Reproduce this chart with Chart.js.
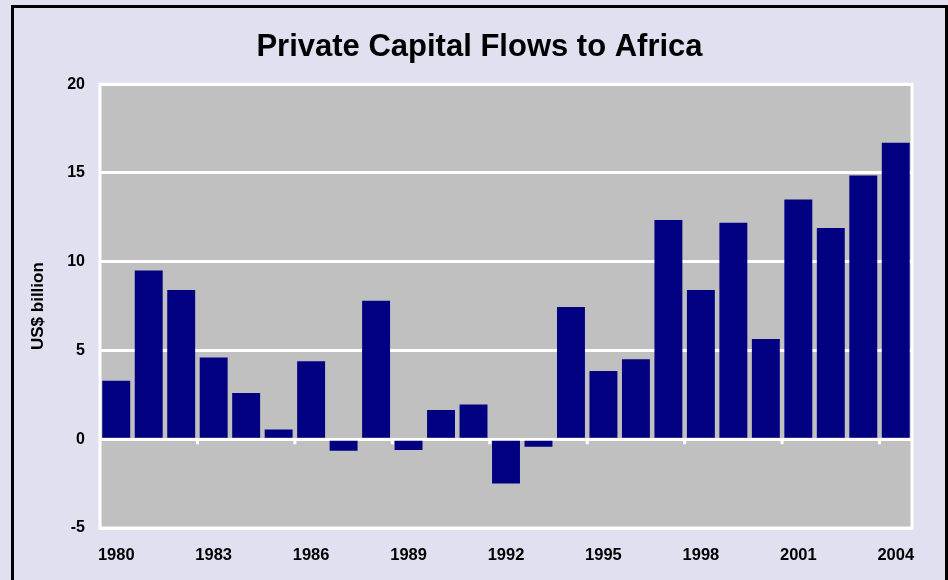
<!DOCTYPE html>
<html>
<head>
<meta charset="utf-8">
<script src="https://cdn.jsdelivr.net/npm/chart.js@4"></script>
<style>
    html, body { margin: 0; padding: 0; background: #E0E0F0; overflow: hidden; }
    #frame {
        position: absolute; left: 11px; top: 5px; width: 931px; height: 590px;
        border: 3px solid #000; box-sizing: content-box;
    }
    #wrap { position: absolute; left: 14px; top: 8px; width: 931px; height: 572px; }
</style>
</head>
<body>
<div id="frame"></div>
<div id="wrap"><canvas id="chart"></canvas></div>
<script>
// Data
const years = ['1980','1981','1982','1983','1984','1985','1986','1987','1988','1989',
    '1990','1991','1992','1993','1994','1995','1996','1997','1998','1999',
    '2000','2001','2002','2003','2004'];
const flows = [3.3, 9.5, 8.4, 4.6, 2.6, 0.55, 4.4, -0.65, 7.8, -0.6,
    1.65, 1.95, -2.5, -0.42, 7.45, 3.85, 4.5, 12.35, 8.4, 12.2,
    5.65, 13.5, 11.9, 14.85, 16.7];
const yTicks = [-5, 0, 5, 10, 15, 20];

const FONT = "'Liberation Sans', Arial, sans-serif";

// grey plot box with white frame
const plotBox = {
    id: 'plotBox',
    beforeDraw(chart) {
        const { ctx, chartArea: a } = chart;
        ctx.save();
        ctx.fillStyle = '#C0C0C0';
        ctx.fillRect(a.left, a.top, a.right - a.left, a.bottom - a.top);
        ctx.strokeStyle = '#FFFFFF';
        ctx.lineWidth = 3;
        ctx.strokeRect(a.left, a.top, a.right - a.left, a.bottom - a.top);
        ctx.restore();
    },
    afterDatasetsDraw(chart) {
        // small tick marks under the zero line, before each labelled year
        const { ctx, scales: { x, y } } = chart;
        const half = (x.getPixelForValue(1) - x.getPixelForValue(0)) / 2;
        const y0 = y.getPixelForValue(0);
        ctx.save();
        ctx.fillStyle = '#FFFFFF';
        years.forEach((yr, i) => {
            if (i > 0 && i % 3 === 0) {
                const px = x.getPixelForValue(i) - half;
                ctx.fillRect(px - 1.5, y0, 3, 5);
            }
        });
        ctx.restore();
    }
};

new Chart(document.getElementById('chart'), {
    type: 'bar',
    data: {
        labels: years,
        datasets: [{
            data: flows,
            backgroundColor: '#000080',
            borderWidth: 0,
            barPercentage: 0.86,
            categoryPercentage: 1.0
        }]
    },
    options: {
        responsive: true,
        maintainAspectRatio: false,
        animation: false,
        layout: { padding: { left: 33, right: 33, top: 0, bottom: 0 } },
        plugins: {
            legend: { display: false },
            tooltip: { enabled: false },
            title: {
                display: true,
                text: 'Private Capital Flows to Africa',
                color: '#000',
                font: { family: FONT, size: 31, weight: 'bold' },
                padding: { top: 21, bottom: 18 }
            }
        },
        scales: {
            x: {
                grid: { display: false, drawTicks: false },
                border: { display: false },
                ticks: {
                    autoSkip: false,
                    maxRotation: 0,
                    padding: 18,
                    color: '#000',
                    font: { family: FONT, size: 16.5, weight: 'bold' },
                    callback: (v, i) => (i % 3 === 0 ? years[i] : '')
                },
                afterFit: s => { s.height = 52; }
            },
            y: {
                min: -5,
                max: 20,
                afterBuildTicks: s => { s.ticks = yTicks.map(v => ({ value: v })); },
                grid: { color: '#FFFFFF', lineWidth: 3, drawTicks: false },
                border: { display: false },
                ticks: {
                    padding: 15,
                    color: '#000',
                    font: { family: FONT, size: 16, weight: 'bold' }
                },
                title: {
                    display: true,
                    text: 'US$ billion',
                    color: '#000',
                    font: { family: FONT, size: 17, weight: 'bold' },
                    padding: { top: -19, bottom: 0 }
                },
                afterFit: s => { s.width = 53; }
            }
        }
    },
    plugins: [plotBox]
});
</script>
</body>
</html>
